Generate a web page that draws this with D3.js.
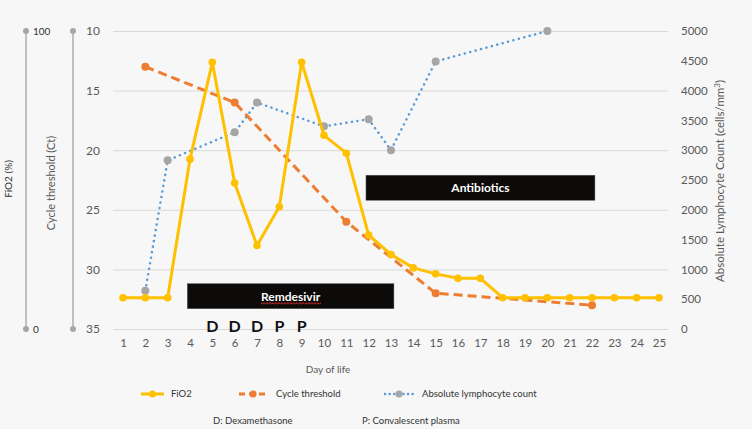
<!DOCTYPE html>
<html>
<head>
<meta charset="utf-8">
<script src="https://cdn.jsdelivr.net/npm/d3@7"></script>
<style>
  body { margin: 0; background: #f7f7f7; }
  svg { font-family: Lato, 'Open Sans', sans-serif; }
</style>
</head>
<body>
<div id="chart"></div>
<script>
// days of life on the x axis
const days = d3.range(1, 26);
// FiO2 (%), one value per day
const fio2 = [10.5, 10.5, 10.5, 57, 89.5, 49, 28, 41, 89.5, 65, 59, 31.5, 25, 20.5, 18.5, 17, 17, 10.5, 10.5, 10.5, 10.5, 10.5, 10.5, 10.5, 10.5];
// cycle threshold, only measured days
const ctDays = [2, 6, 11, 15, 22];
const ctValues = [13, 16, 26, 32, 33];
// absolute lymphocyte count (cells/mm3)
const lymDays = [2, 3, 6, 7, 10, 12, 13, 15, 20];
const lymValues = [640, 2830, 3300, 3800, 3400, 3520, 3000, 4490, 5000];
// tick labels
const ctTicks = [10, 15, 20, 25, 30, 35];
const lymTicks = [0, 500, 1000, 1500, 2000, 2500, 3000, 3500, 4000, 4500, 5000];
const fioTicks = [0, 100];
// treatments (start day, end day)
const treatNames = ['Remdesivir', 'Antibiotics'];
const treatStart = [4, 12];
const treatEnd = [13, 22];
// drug markers
const markDays = [5, 6, 7, 8, 9];
const markLabels = ['D', 'D', 'D', 'P', 'P'];

const w = 752, h = 429;
const svg = d3.select('#chart').append('svg').attr('width', w).attr('height', h);

const x = d3.scalePoint().domain(days).range([123, 659]);
const xLin = d3.scaleLinear().domain([1, 25]).range([123, 659]);
const yCt = d3.scaleLinear().domain([10, 35]).range([31, 329]);
const yLym = d3.scaleLinear().domain([0, 5000]).range([329, 31]);
const yFio = d3.scaleLinear().domain([0, 100]).range([329, 31]);

const grey = '#595959';

// gridlines + left ticks
const leftAxis = d3.axisLeft(yCt).tickValues(ctTicks).tickSize(-555).tickPadding(13);
svg.append('g').attr('transform', 'translate(113,0)').call(leftAxis)
  .call(g => g.select('.domain').remove())
  .call(g => g.selectAll('line').attr('stroke', '#d9d9d9'))
  .call(g => g.selectAll('text').attr('fill', grey).attr('font-size', 12).attr('font-family', 'Lato'));

// right ticks
const rightAxis = d3.axisRight(yLym).tickValues(lymTicks).tickFormat(d3.format('d')).tickSize(0).tickPadding(13);
svg.append('g').attr('transform', 'translate(668,0)').call(rightAxis)
  .call(g => g.select('.domain').remove())
  .call(g => g.selectAll('text').attr('fill', grey).attr('font-size', 11.5).attr('font-family', 'Lato'));

// bottom ticks
const bottomAxis = d3.axisBottom(x).tickSize(0).tickPadding(10);
svg.append('g').attr('transform', 'translate(0,329)').call(bottomAxis)
  .call(g => g.select('.domain').remove())
  .call(g => g.selectAll('text').attr('fill', grey).attr('font-size', 11.5).attr('font-family', 'Lato'));

// extra vertical axes drawn as lines with end dots
function sideAxis(xPos, scale, ticks, labels) {
  const g = svg.append('g');
  g.append('line').attr('x1', xPos).attr('x2', xPos)
    .attr('y1', scale(ticks[0])).attr('y2', scale(ticks[ticks.length - 1]))
    .attr('stroke', '#bfbfbf').attr('stroke-width', 2);
  g.selectAll('circle').data(ticks).enter().append('circle')
    .attr('cx', xPos).attr('cy', d => scale(d)).attr('r', 3).attr('fill', '#a6a6a6');
  if (labels) {
    g.selectAll('text').data(ticks).enter().append('text')
      .attr('x', xPos + 7).attr('y', d => scale(d)).attr('dy', '0.35em')
      .attr('font-size', 10).attr('fill', '#333').text(d => d);
  }
}
sideAxis(26, yFio, fioTicks, true);
sideAxis(73, yCt, [10, 35], false);

// axis titles
svg.append('text').attr('transform', 'translate(12,179) rotate(-90)')
  .attr('text-anchor', 'middle').attr('font-size', 10).attr('fill', '#333').text('FiO2 (%)');
svg.append('text').attr('transform', 'translate(55,183) rotate(-90)')
  .attr('text-anchor', 'middle').attr('font-size', 11).attr('fill', grey).text('Cycle threshold (Ct)');
const rt = svg.append('text').attr('transform', 'translate(724,181) rotate(-90)')
  .attr('text-anchor', 'middle').attr('font-size', 11.5).attr('fill', grey);
rt.append('tspan').text('Absolute Lymphocyte Count (cells/mm');
rt.append('tspan').attr('font-size', 8).attr('dy', -4).text('3');
rt.append('tspan').attr('dy', 4).text(')');
svg.append('text').attr('x', 328).attr('y', 373).attr('text-anchor', 'middle')
  .attr('font-size', 10).attr('fill', grey).text('Day of life');

// treatment boxes
const boxY = [31.2, 22.1];
treatNames.forEach((name, i) => {
  const x0 = xLin(treatStart[i] - 0.12), x1 = xLin(treatEnd[i] + 0.13);
  const y0 = yCt(boxY[i]);
  svg.append('rect').attr('x', x0).attr('y', y0).attr('width', x1 - x0).attr('height', 25)
    .attr('fill', '#0d0b09').attr('stroke', '#555').attr('stroke-width', 0.5);
  const t = svg.append('text').attr('x', (x0 + x1) / 2).attr('y', y0 + 13).attr('dy', '0.35em')
    .attr('text-anchor', 'middle').attr('fill', '#fff').attr('font-weight', 'bold')
    .attr('font-size', 12).text(name);
  if (name === 'Remdesivir') {
    // spell-check squiggle
    const bb = t.node().getBBox();
    let p = `M${bb.x},${y0 + 19}`;
    for (let k = bb.x; k < bb.x + bb.width; k += 3) p += ' l1.5,1.2 l1.5,-1.2';
    svg.append('path').attr('d', p).attr('fill', 'none').attr('stroke', '#e83030').attr('stroke-width', 1);
  }
});

// lymphocyte dotted line
const lymData = lymDays.map((d, i) => ({ day: d, v: lymValues[i] }));
svg.append('path').datum(lymData)
  .attr('d', d3.line().x(d => x(d.day)).y(d => yLym(d.v)))
  .attr('fill', 'none').attr('stroke', '#5b9bd5').attr('stroke-width', 2.5)
  .attr('stroke-dasharray', '0.1 5.5').attr('stroke-linecap', 'round');
svg.selectAll('.lym').data(lymData).enter().append('circle')
  .attr('cx', d => x(d.day)).attr('cy', d => yLym(d.v)).attr('r', 4).attr('fill', '#a5a5a5');

// cycle threshold dashed line
const ctData = ctDays.map((d, i) => ({ day: d, v: ctValues[i] }));
svg.append('path').datum(ctData)
  .attr('d', d3.line().x(d => x(d.day)).y(d => yCt(d.v)))
  .attr('fill', 'none').attr('stroke', '#ed7d31').attr('stroke-width', 3)
  .attr('stroke-dasharray', '9 5');
svg.selectAll('.ct').data(ctData).enter().append('circle')
  .attr('cx', d => x(d.day)).attr('cy', d => yCt(d.v)).attr('r', 4).attr('fill', '#ed7d31');

// FiO2 line
const fioData = days.map((d, i) => ({ day: d, v: fio2[i] }));
svg.append('path').datum(fioData)
  .attr('d', d3.line().x(d => x(d.day)).y(d => yFio(d.v)))
  .attr('fill', 'none').attr('stroke', '#ffc000').attr('stroke-width', 3).attr('stroke-linejoin', 'round');
svg.selectAll('.fio').data(fioData).enter().append('circle')
  .attr('cx', d => x(d.day)).attr('cy', d => yFio(d.v)).attr('r', 3.8).attr('fill', '#ffc000');

// D / P markers
svg.selectAll('.mark').data(markDays).enter().append('text')
  .attr('x', d => x(d)).attr('y', 326).attr('dy', '0.35em').attr('text-anchor', 'middle')
  .attr('font-weight', 'bold').attr('font-size', 16).attr('fill', '#111')
  .text((d, i) => markLabels[i]);

// legend
const ly = 394;
const leg = svg.append('g');
leg.append('line').attr('x1', 141).attr('x2', 164).attr('y1', ly).attr('y2', ly)
  .attr('stroke', '#ffc000').attr('stroke-width', 3);
leg.append('circle').attr('cx', 152.5).attr('cy', ly).attr('r', 3.5).attr('fill', '#ffc000');
leg.append('text').attr('x', 171).attr('y', ly).attr('dy', '0.35em').attr('font-size', 9.5).attr('fill', '#333').text('FiO2');

leg.append('line').attr('x1', 239).attr('x2', 266).attr('y1', ly).attr('y2', ly)
  .attr('stroke', '#ed7d31').attr('stroke-width', 3).attr('stroke-dasharray', '6 4');
leg.append('circle').attr('cx', 253).attr('cy', ly).attr('r', 3.5).attr('fill', '#ed7d31');
leg.append('text').attr('x', 276).attr('y', ly).attr('dy', '0.35em').attr('font-size', 9.5).attr('fill', '#333').text('Cycle threshold');

leg.append('line').attr('x1', 385).attr('x2', 413).attr('y1', ly).attr('y2', ly)
  .attr('stroke', '#5b9bd5').attr('stroke-width', 2.5).attr('stroke-dasharray', '0.1 4.5').attr('stroke-linecap', 'round');
leg.append('circle').attr('cx', 399).attr('cy', ly).attr('r', 3.5).attr('fill', '#a5a5a5');
leg.append('text').attr('x', 422).attr('y', ly).attr('dy', '0.35em').attr('font-size', 9.5).attr('fill', '#333').text('Absolute lymphocyte count');

svg.append('text').attr('x', 213).attr('y', 421).attr('dy', '0.35em').attr('font-size', 9.5).attr('fill', '#333').text('D: Dexamethasone');
svg.append('text').attr('x', 362).attr('y', 421).attr('dy', '0.35em').attr('font-size', 9.5).attr('fill', '#333').text('P: Convalescent plasma');
</script>
</body>
</html>
